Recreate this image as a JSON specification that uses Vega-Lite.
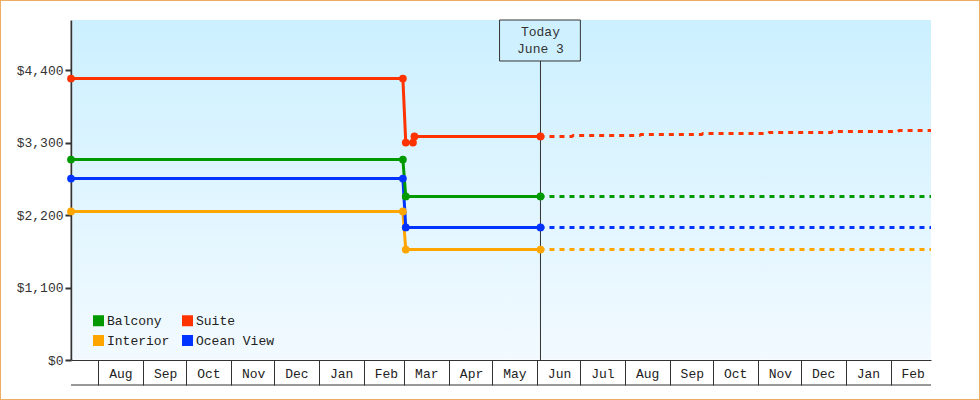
{
  "$schema": "https://vega.github.io/schema/vega-lite/v6.json",
  "width": 980,
  "height": 400,
  "autosize": {"type": "none"},
  "padding": 0,
  "background": "#ffffff",
  "view": {"stroke": "#edad63", "strokeWidth": 2, "fill": null},
  "config": {
    "font": "Liberation Mono",
    "legend": {"labelFont": "Liberation Mono"}
  },
  "datasets": {
    "fares": [
      {"date": "2012-07-13T00:00:00Z", "cabin": "Interior", "fare": 2257},
      {"date": "2013-02-28T00:00:00Z", "cabin": "Interior", "fare": 2257},
      {"date": "2013-03-02T00:00:00Z", "cabin": "Interior", "fare": 1679},
      {"date": "2013-06-03T08:30:00Z", "cabin": "Interior", "fare": 1679},
      {"date": "2012-07-13T00:00:00Z", "cabin": "Ocean View", "fare": 2758},
      {"date": "2013-02-28T00:00:00Z", "cabin": "Ocean View", "fare": 2758},
      {"date": "2013-03-02T00:00:00Z", "cabin": "Ocean View", "fare": 2014},
      {"date": "2013-06-03T08:30:00Z", "cabin": "Ocean View", "fare": 2014},
      {"date": "2012-07-13T00:00:00Z", "cabin": "Balcony", "fare": 3047},
      {"date": "2013-02-28T00:00:00Z", "cabin": "Balcony", "fare": 3047},
      {"date": "2013-03-02T00:00:00Z", "cabin": "Balcony", "fare": 2485},
      {"date": "2013-06-03T08:30:00Z", "cabin": "Balcony", "fare": 2485},
      {"date": "2012-07-13T00:00:00Z", "cabin": "Suite", "fare": 4278},
      {"date": "2013-02-28T00:00:00Z", "cabin": "Suite", "fare": 4278},
      {"date": "2013-03-02T00:00:00Z", "cabin": "Suite", "fare": 3305},
      {"date": "2013-03-07T00:00:00Z", "cabin": "Suite", "fare": 3305},
      {"date": "2013-03-08T00:00:00Z", "cabin": "Suite", "fare": 3397},
      {"date": "2013-06-03T08:30:00Z", "cabin": "Suite", "fare": 3397}
    ],
    "forecast": [
      {"date": "2013-06-03T08:30:00Z", "cabin": "Interior", "fare": 1679},
      {"date": "2014-03-01T00:00:00Z", "cabin": "Interior", "fare": 1679},
      {"date": "2013-06-03T08:30:00Z", "cabin": "Ocean View", "fare": 2014},
      {"date": "2014-03-01T00:00:00Z", "cabin": "Ocean View", "fare": 2014},
      {"date": "2013-06-03T08:30:00Z", "cabin": "Balcony", "fare": 2485},
      {"date": "2014-03-01T00:00:00Z", "cabin": "Balcony", "fare": 2485},
      {"date": "2013-06-03T08:30:00Z", "cabin": "Suite", "fare": 3397},
      {"date": "2013-06-25T00:00:00Z", "cabin": "Suite", "fare": 3397},
      {"date": "2013-06-26T00:00:00Z", "cabin": "Suite", "fare": 3412},
      {"date": "2013-08-11T00:00:00Z", "cabin": "Suite", "fare": 3412},
      {"date": "2013-08-12T00:00:00Z", "cabin": "Suite", "fare": 3427},
      {"date": "2013-09-23T00:00:00Z", "cabin": "Suite", "fare": 3427},
      {"date": "2013-09-24T00:00:00Z", "cabin": "Suite", "fare": 3442},
      {"date": "2013-11-08T00:00:00Z", "cabin": "Suite", "fare": 3442},
      {"date": "2013-11-09T00:00:00Z", "cabin": "Suite", "fare": 3458},
      {"date": "2013-12-22T00:00:00Z", "cabin": "Suite", "fare": 3458},
      {"date": "2013-12-23T00:00:00Z", "cabin": "Suite", "fare": 3473},
      {"date": "2014-02-06T00:00:00Z", "cabin": "Suite", "fare": 3473},
      {"date": "2014-02-07T00:00:00Z", "cabin": "Suite", "fare": 3488},
      {"date": "2014-03-01T00:00:00Z", "cabin": "Suite", "fare": 3488}
    ]
  },
  "encoding": {
    "x": {
      "field": "date",
      "type": "temporal",
      "scale": {
        "type": "utc",
        "domain": ["2012-07-13", "2014-03-01"],
        "range": [71, 931]
      },
      "axis": {
        "title": null,
        "offset": -40,
        "values": ["2012-08-01", "2012-09-01", "2012-10-01", "2012-11-01", "2012-12-01", "2013-01-01", "2013-02-01", "2013-03-01", "2013-04-01", "2013-05-01", "2013-06-01", "2013-07-01", "2013-08-01", "2013-09-01", "2013-10-01", "2013-11-01", "2013-12-01", "2014-01-01", "2014-02-01"],
        "format": "%b",
        "grid": false,
        "domainColor": "#333333",
        "tickColor": "#333333",
        "tickSize": 25,
        "labelAlign": "center",
        "labelOffset": 22,
        "labelPadding": -12,
        "labelBaseline": "middle",
        "labelColor": "#222222",
        "labelFontSize": 13,
        "labelFont": "Liberation Mono",
        "labelOverlap": false,
        "labelBound": false,
        "labelFlush": false
      }
    },
    "y": {
      "field": "fare",
      "type": "quantitative",
      "scale": {"domain": [0, 5167], "range": [360, 20], "nice": false, "zero": false},
      "axis": {
        "title": null,
        "offset": -71,
        "values": [0, 1100, 2200, 3300, 4400],
        "format": "$,d",
        "grid": false,
        "domainColor": "#333333",
        "domainWidth": 2,
        "tickColor": "#333333",
        "tickWidth": 2,
        "tickSize": 6,
        "labelPadding": 2,
        "labelColor": "#333333",
        "labelFontSize": 13,
        "labelFont": "Liberation Mono"
      }
    }
  },
  "layer": [
    {
      "data": {"values": [{"start": "2012-07-14", "end": "2014-03-01", "low": 8, "high": 5167}]},
      "mark": {
        "type": "rect",
        "color": {
          "gradient": "linear",
          "x1": 0, "y1": 0, "x2": 0, "y2": 1,
          "stops": [{"offset": 0, "color": "#ccf0ff"}, {"offset": 1, "color": "#f2faff"}]
        }
      },
      "encoding": {
        "x": {"field": "start", "type": "temporal"},
        "x2": {"field": "end"},
        "y": {"field": "low", "type": "quantitative"},
        "y2": {"field": "high"}
      }
    },
    {
      "data": {"values": [{"start": "2012-07-13", "end": "2014-03-01", "fare": -380}]},
      "mark": {"type": "rule", "color": "#333333", "strokeWidth": 1},
      "encoding": {
        "x": {"field": "start", "type": "temporal"},
        "x2": {"field": "end"}
      }
    },
    {
      "data": {"values": [{"date": "2013-06-03T08:30:00Z", "low": 0, "high": 4544}]},
      "mark": {"type": "rule", "color": "#333333", "strokeWidth": 1},
      "encoding": {
        "y": {"field": "low", "type": "quantitative"},
        "y2": {"field": "high"}
      }
    },
    {
      "data": {"name": "forecast"},
      "mark": {"type": "line", "strokeWidth": 3, "strokeDash": [5, 5], "strokeDashOffset": -9},
      "encoding": {
        "color": {"field": "cabin", "type": "nominal"}
      }
    },
    {
      "data": {"name": "fares"},
      "mark": {"type": "line", "strokeWidth": 3},
      "encoding": {
        "color": {
          "field": "cabin",
          "type": "nominal",
          "scale": {
            "domain": ["Balcony", "Interior", "Suite", "Ocean View"],
            "range": ["#009900", "#ffa500", "#ff3300", "#0033ff"]
          },
          "legend": {
            "title": null,
            "orient": "none",
            "legendX": 92,
            "legendY": 314,
            "columns": 2,
            "columnPadding": 11,
            "rowPadding": 6,
            "symbolType": "square",
            "symbolSize": 121,
            "symbolStrokeWidth": 0,
            "symbolOpacity": 1,
            "labelFontSize": 13,
            "labelOffset": 2,
            "labelColor": "#222222",
            "labelFont": "Liberation Mono"
          }
        }
      }
    },
    {
      "data": {"name": "fares"},
      "mark": {"type": "circle", "size": 60, "opacity": 1},
      "encoding": {
        "color": {"field": "cabin", "type": "nominal"}
      }
    },
    {
      "data": {"values": [{"start": "2013-05-06", "end": "2013-07-01", "low": 4544, "high": 5167}]},
      "mark": {"type": "rect", "fill": "#cff1ff", "stroke": "#333333", "strokeWidth": 1},
      "encoding": {
        "x": {"field": "start", "type": "temporal"},
        "x2": {"field": "end"},
        "y": {"field": "low", "type": "quantitative"},
        "y2": {"field": "high"}
      }
    },
    {
      "data": {"values": [{"date": "2013-06-03T08:30:00Z", "fare": 4985, "label": "Today"}, {"date": "2013-06-03T08:30:00Z", "fare": 4726, "label": "June 3"}]},
      "mark": {"type": "text", "fontSize": 13, "font": "Liberation Mono", "color": "#333333"},
      "encoding": {
        "text": {"field": "label"}
      }
    }
  ]
}
